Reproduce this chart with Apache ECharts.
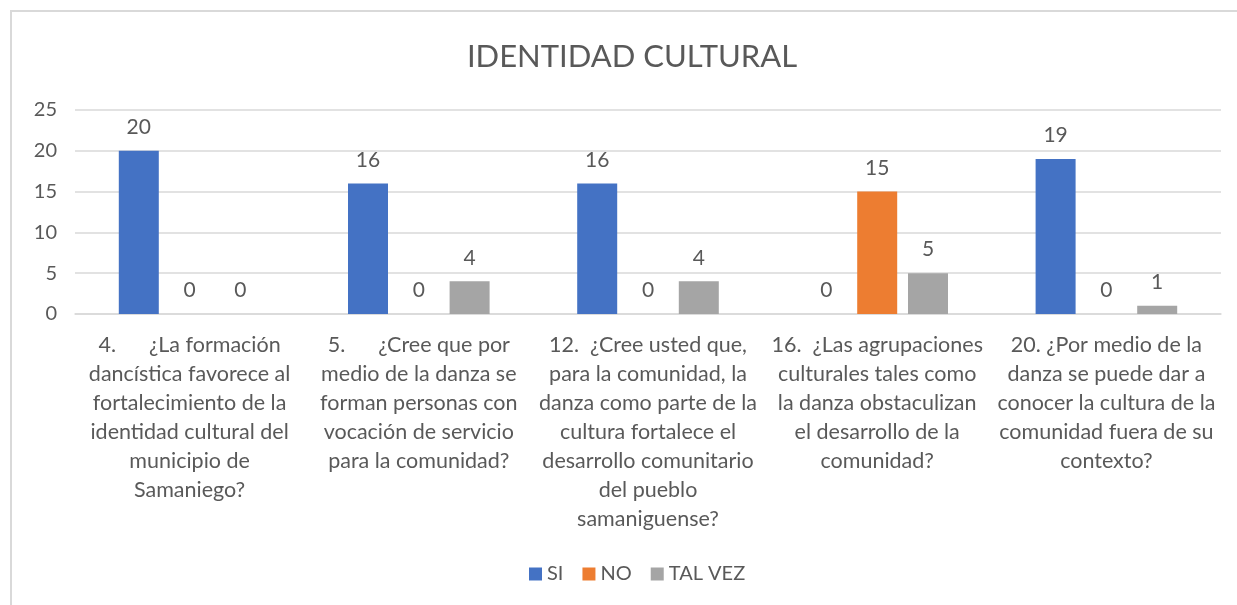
<!DOCTYPE html>
<html>
<head>
<meta charset="utf-8">
<script src="https://cdn.jsdelivr.net/npm/echarts@6/dist/echarts.min.js"></script>
<style>
  html, body { margin: 0; padding: 0; background: #fff; }
  #chart { width: 1237px; height: 605px; }
</style>
</head>
<body>
<div id="chart"></div>
<script>
// preguntas (ejes) y respuestas por serie
let categories = [
  '4.      ¿La formación\ndancística favorece al\nfortalecimiento de la\nidentidad cultural del\nmunicipio de\nSamaniego?',
  '5.      ¿Cree que por\nmedio de la danza se\nforman personas con\nvocación de servicio\npara la comunidad?',
  '12.  ¿Cree usted que,\npara la comunidad, la\ndanza como parte de la\ncultura fortalece el\ndesarrollo comunitario\ndel pueblo\nsamaniguense?',
  '16.  ¿Las agrupaciones\nculturales tales como\nla danza obstaculizan\nel desarrollo de la\ncomunidad?',
  '20. ¿Por medio de la\ndanza se puede dar a\nconocer la cultura de la\ncomunidad fuera de su\ncontexto?'
]
let si = [20, 16, 16, 0, 19]
let no = [0, 0, 0, 15, 0]
let talVez = [0, 4, 4, 5, 1]

let font = 'Lato, "Noto Sans", sans-serif'
let txt = '#595959'

let myChart = echarts.init(document.getElementById('chart'))

let serie = (name, data, color) => ({
  name,
  type: 'bar',
  data,
  barWidth: 40,
  barGap: '27%',
  itemStyle: { color },
  label: {
    show: true,
    position: 'top',
    distance: 13,
    color: txt,
    fontFamily: font,
    fontSize: 21
  }
})

let option = {
  animation: false,
  backgroundColor: '#fff',
  title: {
    text: 'IDENTIDAD CULTURAL',
    left: 627,
    textAlign: 'center',
    top: 36,
    textStyle: { color: txt, fontFamily: font, fontSize: 31, fontWeight: 'normal' }
  },
  graphic: [{
    type: 'rect',
    shape: { x: 11, y: 11, width: 1400, height: 800 },
    style: { fill: 'none', stroke: '#d9d9d9', lineWidth: 2 },
    silent: true
  }],
  legend: {
    bottom: 16,
    left: 524,
    itemWidth: 13,
    itemHeight: 13,
    itemGap: 19,
    icon: 'rect',
    textStyle: { color: txt, fontFamily: font, fontSize: 20 },
    data: ['SI', 'NO', 'TAL VEZ']
  },
  grid: { left: 75, right: 16, top: 110, bottom: 291, containLabel: false },
  xAxis: {
    type: 'category',
    data: categories,
    axisLine: { lineStyle: { color: '#d9d9d9', width: 1.5 } },
    axisTick: { show: false },
    axisLabel: {
      interval: 0,
      margin: 17,
      color: txt,
      fontFamily: font,
      fontSize: 21.5,
      lineHeight: 29,
      align: 'center'
    }
  },
  yAxis: {
    type: 'value',
    min: 0,
    max: 25,
    interval: 5,
    axisLine: { show: false },
    axisTick: { show: false },
    splitLine: { lineStyle: { color: '#d9d9d9', width: 1.5 } },
    axisLabel: { color: txt, fontFamily: font, fontSize: 20, margin: 18 }
  },
  series: [
    serie('SI', si, '#4472c4'),
    serie('NO', no, '#ed7d31'),
    serie('TAL VEZ', talVez, '#a5a5a5')
  ]
}
myChart.setOption(option)
</script>
</body>
</html>
